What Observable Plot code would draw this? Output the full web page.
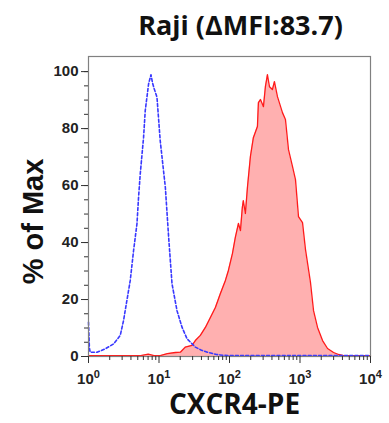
<!DOCTYPE html>
<html>
<head>
<meta charset="utf-8">
<script src="https://cdn.jsdelivr.net/npm/d3@7"></script>
<script src="https://cdn.jsdelivr.net/npm/@observablehq/plot@0.6"></script>
<style>
  html, body { margin: 0; padding: 0; background: #fff; }
  #chart svg { display: block; }
</style>
</head>
<body>
<div id="chart"></div>
<script>
const titleText = "Raji (ΔMFI:83.7)";
const xLabelText = "CXCR4-PE";
const yLabelText = "% of Max";

// Isotype control (blue dashed)
const isoX = [1, 1.03, 1.057, 1.32, 1.73, 2.27, 2.82, 3.14, 3.91, 4.36, 4.87, 5.13, 5.42, 6.04, 6.38, 7.12, 7.69, 8.1, 8.57, 9.36, 10.4, 12.3, 13.7, 15.3, 18.0, 21.2, 25.0, 32.8, 40, 48.5, 65, 82, 150, 1000, 10000];
const isoY = [12, 3, 1.5, 1.5, 2.7, 4.4, 7.4, 12.6, 26.7, 37.2, 46.6, 55.9, 64.1, 76.9, 86.3, 95.7, 98.9, 96, 93.9, 91.0, 75.8, 59.4, 41.9, 25.5, 16.1, 10.3, 6.2, 3.3, 2.2, 1.5, 0.7, 0.4, 0.3, 0.3, 0.3];

// CXCR4-PE stained (red filled)
const cxcrX = [1, 5.5, 7.05, 8.5, 10.4, 13.1, 17.1, 20.1, 23.6, 29.4, 32.8, 38.6, 45.5, 53.6, 63.1, 74.3, 87.5, 96.5, 110, 121, 134, 143, 152, 157, 168, 180, 198, 218, 249, 257, 275, 303, 323, 345, 369, 406, 434, 479, 564, 622, 687, 782, 863, 952, 1086, 1197, 1410, 1556, 1774, 2089, 2460, 2993, 3524, 4150, 10000];
const cxcrY = [0.3, 0.3, 0.8, 0.3, 0.3, 1.0, 1.4, 1.5, 3.3, 3.9, 5.6, 7.4, 10.2, 13.7, 17.2, 22.1, 26.7, 30.2, 36.1, 41.8, 46.7, 44.2, 52.3, 54.7, 50.2, 59.6, 70.2, 76.8, 80.7, 89.1, 90.2, 87.7, 94.7, 98.9, 94.7, 93.7, 96.5, 91.2, 85.6, 83.2, 72.6, 66.7, 62.1, 49.1, 47.0, 37.5, 25.9, 16.1, 10.2, 5.6, 2.8, 1.4, 0.7, 0.3, 0.3];

const yMajorTicks = [0, 20, 40, 60, 80, 100];
const yMinorTicks = d3.range(0, 101, 5);
const xMajorTicks = [1, 10, 100, 1000, 10000];
const xMinorTicks = [1, 10, 100, 1000].flatMap(d => [2, 3, 4, 5, 6, 7, 8, 9].map(k => k * d));

const iso = isoX.map((x, i) => ({x, y: isoY[i]}));
const cxcr = cxcrX.map((x, i) => ({x, y: cxcrY[i]}));

const tickFont = "'Liberation Sans', Arial, sans-serif";
const labelFont = "'Open Sans', 'Liberation Sans', sans-serif";

const chart = Plot.plot({
  width: 389,
  height: 423,
  marginLeft: 88,
  marginRight: 19,
  marginTop: 56,
  marginBottom: 67,
  style: {fontFamily: tickFont, background: "#fff"},
  x: {type: "log", domain: [1, 10000]},
  y: {domain: [0, 105.3]},
  marks: [
    Plot.areaY(cxcr, {x: "x", y: "y", fill: "#ffb0b0"}),
    Plot.lineY(cxcr, {x: "x", y: "y", stroke: "#ff1a1a", strokeWidth: 1.3}),
    Plot.lineY(iso, {x: "x", y: "y", stroke: "#3838ff", strokeWidth: 1.6, strokeDasharray: "3,2.2"}),
    Plot.ruleY([0], {stroke: "#222", strokeWidth: 1}),
    Plot.frame({stroke: "#808080", strokeWidth: 1.2}),
    Plot.axisY({ticks: yMinorTicks, tickSize: 4, text: null, stroke: "#333", label: null}),
    Plot.axisY({ticks: yMajorTicks, tickSize: 7, tickPadding: 3, stroke: "#333", label: null,
      fontSize: 15, fontWeight: "bold", fill: "#222"}),
    Plot.axisX({ticks: xMinorTicks, tickSize: 4, text: null, stroke: "#333", label: null}),
    Plot.axisX({ticks: xMajorTicks, tickSize: 7, tickPadding: 10, stroke: "#333", label: null,
      tickFormat: d => String(Math.round(Math.log10(d))), fontSize: 15, fontWeight: "bold", fill: "#222"}),
    Plot.text([titleText], {frameAnchor: "top", dx: 11, dy: -41, fontSize: 27, fontWeight: "bold",
      fontFamily: labelFont, fill: "#111"}),
    Plot.text([xLabelText], {frameAnchor: "bottom", dx: 5, dy: 57, fontSize: 28, fontWeight: "bold",
      fontFamily: labelFont, fill: "#111"}),
    Plot.text([yLabelText], {frameAnchor: "left", textAnchor: "middle", dx: -55, dy: 15, rotate: -90,
      fontSize: 29, fontWeight: "bold", fontFamily: tickFont, fill: "#111"})
  ]
});

document.getElementById("chart").appendChild(chart);

// Render x tick labels as powers of ten: 10 with superscript exponent
d3.select(chart).selectAll('g[aria-label="x-axis tick label"] text').each(function() {
  const exp = this.textContent;
  if (!exp) return;
  const t = d3.select(this);
  t.text(null);
  t.append("tspan").text("10");
  t.append("tspan").attr("dy", "-0.55em").attr("font-size", 11).text(exp);
});
</script>
</body>
</html>
